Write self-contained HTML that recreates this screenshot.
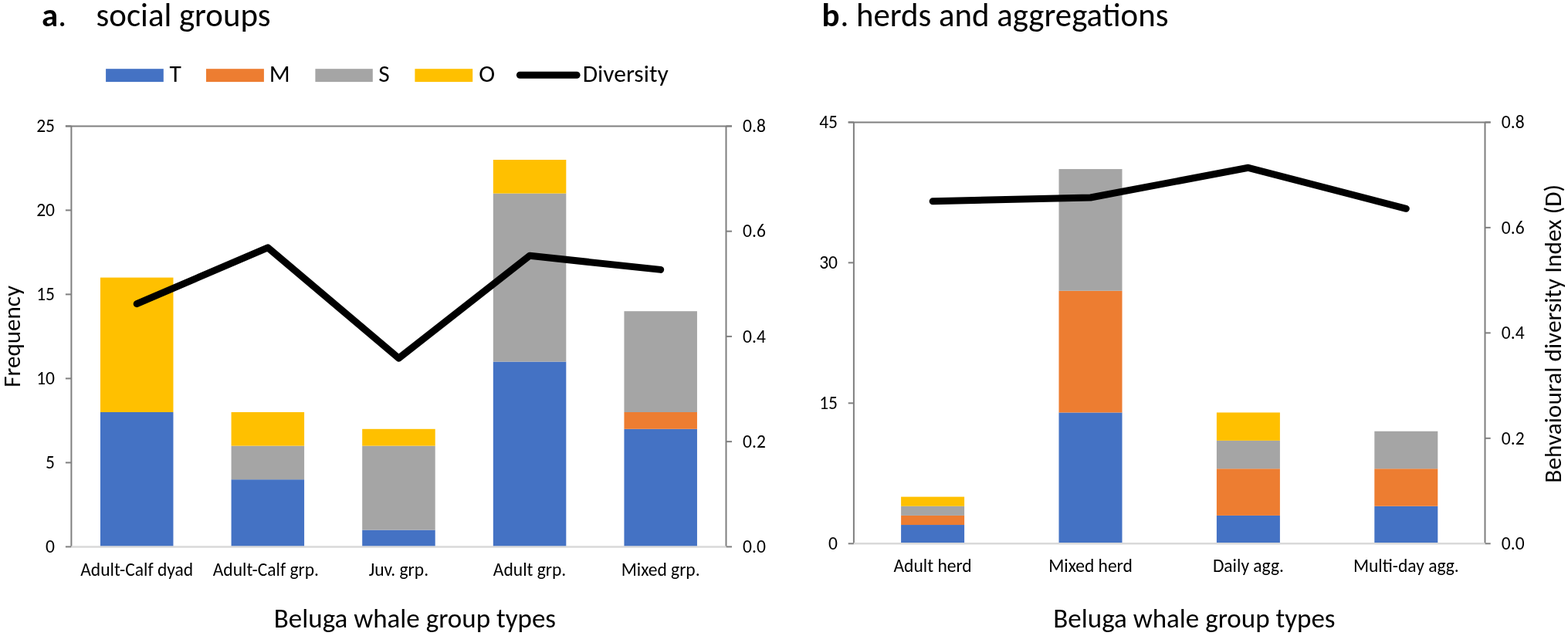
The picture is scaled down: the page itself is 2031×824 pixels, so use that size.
<!DOCTYPE html>
<html><head><meta charset="utf-8"><title>Beluga whale group types</title>
<style>
html,body{margin:0;padding:0;background:#fff;}
body{width:2031px;height:824px;overflow:hidden;}
svg{display:block;}
text{fill:#000;font-family:Carlito, 'Liberation Sans', sans-serif;}
</style></head>
<body>
<svg width="2031" height="824" viewBox="0 0 2031 824">
<rect x="0" y="0" width="2031" height="824" fill="#fff"/>
<rect x="129.96" y="534.00" width="94.50" height="174.40" fill="#4472C4"/>
<rect x="129.96" y="359.60" width="94.50" height="174.40" fill="#FFC000"/>
<rect x="299.58" y="621.20" width="94.50" height="87.20" fill="#4472C4"/>
<rect x="299.58" y="577.60" width="94.50" height="43.60" fill="#A5A5A5"/>
<rect x="299.58" y="534.00" width="94.50" height="43.60" fill="#FFC000"/>
<rect x="469.20" y="686.60" width="94.50" height="21.80" fill="#4472C4"/>
<rect x="469.20" y="577.60" width="94.50" height="109.00" fill="#A5A5A5"/>
<rect x="469.20" y="555.80" width="94.50" height="21.80" fill="#FFC000"/>
<rect x="638.82" y="468.60" width="94.50" height="239.80" fill="#4472C4"/>
<rect x="638.82" y="250.60" width="94.50" height="218.00" fill="#A5A5A5"/>
<rect x="638.82" y="207.00" width="94.50" height="43.60" fill="#FFC000"/>
<rect x="808.44" y="555.80" width="94.50" height="152.60" fill="#4472C4"/>
<rect x="808.44" y="534.00" width="94.50" height="21.80" fill="#ED7D31"/>
<rect x="808.44" y="403.20" width="94.50" height="130.80" fill="#A5A5A5"/>
<line x1="84.90" y1="163.40" x2="948.00" y2="163.40" stroke="#7f7f7f" stroke-width="2"/>
<line x1="92.40" y1="163.40" x2="92.40" y2="708.40" stroke="#7f7f7f" stroke-width="2"/>
<line x1="940.50" y1="163.40" x2="940.50" y2="708.40" stroke="#7f7f7f" stroke-width="2"/>
<line x1="84.90" y1="708.40" x2="92.40" y2="708.40" stroke="#7f7f7f" stroke-width="2"/>
<line x1="84.90" y1="599.40" x2="92.40" y2="599.40" stroke="#7f7f7f" stroke-width="2"/>
<line x1="84.90" y1="490.40" x2="92.40" y2="490.40" stroke="#7f7f7f" stroke-width="2"/>
<line x1="84.90" y1="381.40" x2="92.40" y2="381.40" stroke="#7f7f7f" stroke-width="2"/>
<line x1="84.90" y1="272.40" x2="92.40" y2="272.40" stroke="#7f7f7f" stroke-width="2"/>
<line x1="84.90" y1="163.40" x2="92.40" y2="163.40" stroke="#7f7f7f" stroke-width="2"/>
<line x1="940.50" y1="708.40" x2="948.00" y2="708.40" stroke="#7f7f7f" stroke-width="2"/>
<line x1="940.50" y1="572.15" x2="948.00" y2="572.15" stroke="#7f7f7f" stroke-width="2"/>
<line x1="940.50" y1="435.90" x2="948.00" y2="435.90" stroke="#7f7f7f" stroke-width="2"/>
<line x1="940.50" y1="299.65" x2="948.00" y2="299.65" stroke="#7f7f7f" stroke-width="2"/>
<line x1="940.50" y1="163.40" x2="948.00" y2="163.40" stroke="#7f7f7f" stroke-width="2"/>
<line x1="92.40" y1="708.40" x2="940.50" y2="708.40" stroke="#D9D9D9" stroke-width="2.5"/>
<text x="71.00" y="716.20" text-anchor="end" font-size="23.5" textLength="11.92" lengthAdjust="spacingAndGlyphs">0</text>
<text x="71.00" y="607.20" text-anchor="end" font-size="23.5" textLength="11.92" lengthAdjust="spacingAndGlyphs">5</text>
<text x="71.00" y="498.20" text-anchor="end" font-size="23.5" textLength="23.83" lengthAdjust="spacingAndGlyphs">10</text>
<text x="71.00" y="389.20" text-anchor="end" font-size="23.5" textLength="23.83" lengthAdjust="spacingAndGlyphs">15</text>
<text x="71.00" y="280.20" text-anchor="end" font-size="23.5" textLength="23.83" lengthAdjust="spacingAndGlyphs">20</text>
<text x="71.00" y="171.20" text-anchor="end" font-size="23.5" textLength="23.83" lengthAdjust="spacingAndGlyphs">25</text>
<text x="962.10" y="716.20" font-size="23.5" textLength="29.77" lengthAdjust="spacingAndGlyphs">0.0</text>
<text x="962.10" y="579.95" font-size="23.5" textLength="29.77" lengthAdjust="spacingAndGlyphs">0.2</text>
<text x="962.10" y="443.70" font-size="23.5" textLength="29.77" lengthAdjust="spacingAndGlyphs">0.4</text>
<text x="962.10" y="307.45" font-size="23.5" textLength="29.77" lengthAdjust="spacingAndGlyphs">0.6</text>
<text x="962.10" y="171.20" font-size="23.5" textLength="29.77" lengthAdjust="spacingAndGlyphs">0.8</text>
<text x="177.21" y="746.00" text-anchor="middle" font-size="23.5" textLength="145.94" lengthAdjust="spacingAndGlyphs">Adult-Calf dyad</text>
<text x="344.33" y="746.00" text-anchor="middle" font-size="23.5" textLength="137.23" lengthAdjust="spacingAndGlyphs">Adult-Calf grp.</text>
<text x="516.45" y="746.00" text-anchor="middle" font-size="23.5" textLength="77.31" lengthAdjust="spacingAndGlyphs">Juv. grp.</text>
<text x="686.07" y="746.00" text-anchor="middle" font-size="23.5" textLength="94.41" lengthAdjust="spacingAndGlyphs">Adult grp.</text>
<text x="855.69" y="746.00" text-anchor="middle" font-size="23.5" textLength="101.94" lengthAdjust="spacingAndGlyphs">Mixed grp.</text>
<polyline points="177.21,393.66 346.83,320.77 516.45,464.10 686.07,331.33 855.69,349.38" fill="none" stroke="#000" stroke-width="9" stroke-linecap="round" stroke-linejoin="round"/>
<rect x="1167.10" y="680.04" width="82.00" height="24.26" fill="#4472C4"/>
<rect x="1167.10" y="667.91" width="82.00" height="12.13" fill="#ED7D31"/>
<rect x="1167.10" y="655.78" width="82.00" height="12.13" fill="#A5A5A5"/>
<rect x="1167.10" y="643.64" width="82.00" height="12.13" fill="#FFC000"/>
<rect x="1371.50" y="534.46" width="82.00" height="169.84" fill="#4472C4"/>
<rect x="1371.50" y="376.76" width="82.00" height="157.70" fill="#ED7D31"/>
<rect x="1371.50" y="219.06" width="82.00" height="157.70" fill="#A5A5A5"/>
<rect x="1575.90" y="667.91" width="82.00" height="36.39" fill="#4472C4"/>
<rect x="1575.90" y="607.25" width="82.00" height="60.66" fill="#ED7D31"/>
<rect x="1575.90" y="570.86" width="82.00" height="36.39" fill="#A5A5A5"/>
<rect x="1575.90" y="534.46" width="82.00" height="36.39" fill="#FFC000"/>
<rect x="1780.30" y="655.78" width="82.00" height="48.52" fill="#4472C4"/>
<rect x="1780.30" y="607.25" width="82.00" height="48.52" fill="#ED7D31"/>
<rect x="1780.30" y="558.73" width="82.00" height="48.52" fill="#A5A5A5"/>
<line x1="1098.70" y1="158.40" x2="1930.70" y2="158.40" stroke="#7f7f7f" stroke-width="2"/>
<line x1="1105.90" y1="158.40" x2="1105.90" y2="704.30" stroke="#7f7f7f" stroke-width="2"/>
<line x1="1923.50" y1="158.40" x2="1923.50" y2="704.30" stroke="#7f7f7f" stroke-width="2"/>
<line x1="1098.70" y1="704.30" x2="1105.90" y2="704.30" stroke="#7f7f7f" stroke-width="2"/>
<line x1="1098.70" y1="522.33" x2="1105.90" y2="522.33" stroke="#7f7f7f" stroke-width="2"/>
<line x1="1098.70" y1="340.37" x2="1105.90" y2="340.37" stroke="#7f7f7f" stroke-width="2"/>
<line x1="1098.70" y1="158.40" x2="1105.90" y2="158.40" stroke="#7f7f7f" stroke-width="2"/>
<line x1="1923.50" y1="704.30" x2="1930.70" y2="704.30" stroke="#7f7f7f" stroke-width="2"/>
<line x1="1923.50" y1="567.82" x2="1930.70" y2="567.82" stroke="#7f7f7f" stroke-width="2"/>
<line x1="1923.50" y1="431.35" x2="1930.70" y2="431.35" stroke="#7f7f7f" stroke-width="2"/>
<line x1="1923.50" y1="294.88" x2="1930.70" y2="294.88" stroke="#7f7f7f" stroke-width="2"/>
<line x1="1923.50" y1="158.40" x2="1930.70" y2="158.40" stroke="#7f7f7f" stroke-width="2"/>
<line x1="1105.90" y1="704.30" x2="1923.50" y2="704.30" stroke="#D9D9D9" stroke-width="2.5"/>
<text x="1085.00" y="712.10" text-anchor="end" font-size="23.5" textLength="11.92" lengthAdjust="spacingAndGlyphs">0</text>
<text x="1085.00" y="530.13" text-anchor="end" font-size="23.5" textLength="23.83" lengthAdjust="spacingAndGlyphs">15</text>
<text x="1085.00" y="348.17" text-anchor="end" font-size="23.5" textLength="23.83" lengthAdjust="spacingAndGlyphs">30</text>
<text x="1085.00" y="166.20" text-anchor="end" font-size="23.5" textLength="23.83" lengthAdjust="spacingAndGlyphs">45</text>
<text x="1944.80" y="712.10" font-size="23.5" textLength="29.77" lengthAdjust="spacingAndGlyphs">0.0</text>
<text x="1944.80" y="575.62" font-size="23.5" textLength="29.77" lengthAdjust="spacingAndGlyphs">0.2</text>
<text x="1944.80" y="439.15" font-size="23.5" textLength="29.77" lengthAdjust="spacingAndGlyphs">0.4</text>
<text x="1944.80" y="302.68" font-size="23.5" textLength="29.77" lengthAdjust="spacingAndGlyphs">0.6</text>
<text x="1944.80" y="166.20" font-size="23.5" textLength="29.77" lengthAdjust="spacingAndGlyphs">0.8</text>
<text x="1208.10" y="741.20" text-anchor="middle" font-size="23.5" textLength="101.14" lengthAdjust="spacingAndGlyphs">Adult herd</text>
<text x="1412.50" y="741.20" text-anchor="middle" font-size="23.5" textLength="108.66" lengthAdjust="spacingAndGlyphs">Mixed herd</text>
<text x="1616.90" y="741.20" text-anchor="middle" font-size="23.5" textLength="91.98" lengthAdjust="spacingAndGlyphs">Daily agg.</text>
<text x="1821.30" y="741.20" text-anchor="middle" font-size="23.5" textLength="136.78" lengthAdjust="spacingAndGlyphs">Multi-day agg.</text>
<polyline points="1208.10,260.76 1412.50,255.98 1616.90,217.29 1821.30,270.31" fill="none" stroke="#000" stroke-width="9" stroke-linecap="round" stroke-linejoin="round"/>
<text x="537.4" y="812.5" text-anchor="middle" font-size="35" textLength="365.2">Beluga whale group types</text>
<text x="1546.9" y="812.5" text-anchor="middle" font-size="35" textLength="365.2">Beluga whale group types</text>
<text transform="translate(25.7,435.85) rotate(-90)" x="0" y="0" text-anchor="middle" font-size="31.1" textLength="131.9">Frequency</text>
<text transform="translate(2022.1,432.3) rotate(-90)" x="0" y="0" text-anchor="middle" font-size="31.34" textLength="386.7">Behvaioural diversity Index (D)</text>
<text x="54.1" y="33.7" font-size="42.85" font-weight="bold" textLength="21.16" lengthAdjust="spacingAndGlyphs">a</text>
<text x="75.27" y="33.7" font-size="42.85" textLength="10.83" lengthAdjust="spacingAndGlyphs">.</text>
<text x="124.6" y="33.7" font-size="42.85" textLength="225.92" lengthAdjust="spacingAndGlyphs">social groups</text>
<text x="1064.4" y="33.7" font-size="42.85" font-weight="bold" textLength="23.00" lengthAdjust="spacingAndGlyphs">b</text>
<text x="1088.4" y="33.7" font-size="42.85" textLength="425.03" lengthAdjust="spacingAndGlyphs">. herds and aggregations</text>
<rect x="137.1" y="89.2" width="74.7" height="16.9" fill="#4472C4"/>
<rect x="267.0" y="89.2" width="74.9" height="16.9" fill="#ED7D31"/>
<rect x="408.4" y="89.2" width="74.4" height="16.9" fill="#A5A5A5"/>
<rect x="537.4" y="89.2" width="74.8" height="16.9" fill="#FFC000"/>
<line x1="673.4" y1="97.2" x2="747.1" y2="97.2" stroke="#000" stroke-width="9" stroke-linecap="round"/>
<text x="219.5" y="106.1" font-size="31.5" textLength="15.36" lengthAdjust="spacingAndGlyphs">T</text>
<text x="348.8" y="106.1" font-size="31.5" textLength="26.94" lengthAdjust="spacingAndGlyphs">M</text>
<text x="490.2" y="106.1" font-size="31.5" textLength="14.48" lengthAdjust="spacingAndGlyphs">S</text>
<text x="620.2" y="106.1" font-size="31.5" textLength="20.86" lengthAdjust="spacingAndGlyphs">O</text>
<text x="754.7" y="106.1" font-size="31.5" textLength="111.02" lengthAdjust="spacingAndGlyphs">Diversity</text>
</svg>
</body></html>
